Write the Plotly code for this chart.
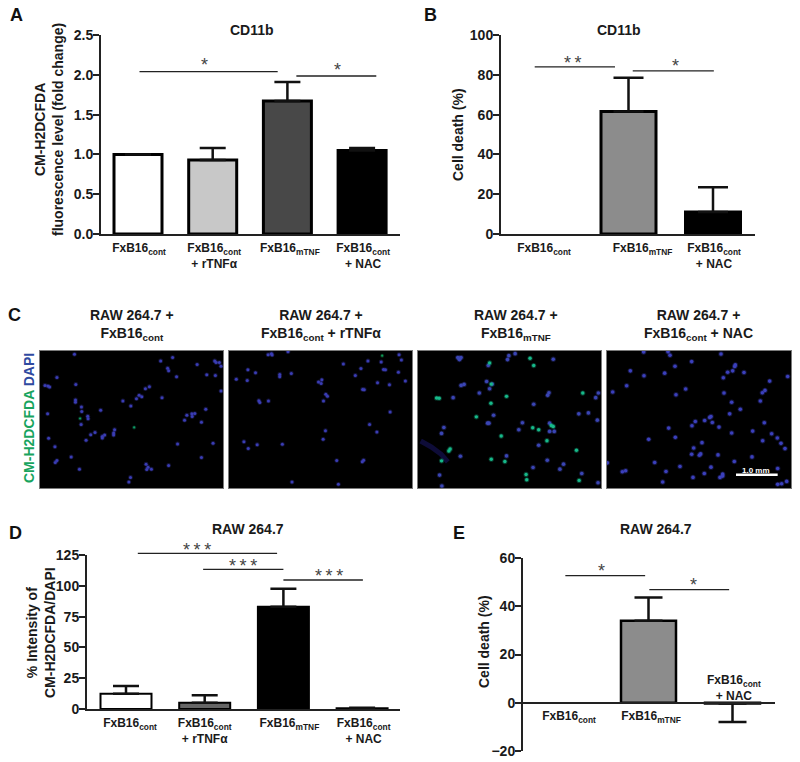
import plotly.graph_objects as go

W, H = 800, 762
FONT = "Liberation Sans"
INK = "#1a1a1a"

# ---------- data ----------
cont = "FxB16<sub>cont</sub>"
mtnf = "FxB16<sub>mTNF</sub>"
rtnf = "FxB16<sub>cont</sub><br>+ rTNFα"
nac = "FxB16<sub>cont</sub><br>+ NAC"

a_labels = [cont, rtnf, mtnf, nac]
a_values = [1.0, 0.93, 1.67, 1.05]
a_errors = [0, 0.15, 0.24, 0.03]
a_errors_down = [0, 0, 0, 0]
a_colors = ["#ffffff", "#c8c8c8", "#484848", "#000000"]

b_labels = [cont, mtnf, nac]
b_values = [0, 61.5, 11]
b_errors = [0, 17, 12.5]
b_errors_down = [0, 0, 0]
b_colors = ["#ffffff", "#8c8c8c", "#000000"]

d_labels = [cont, rtnf, mtnf, nac]
d_values = [12.3, 5, 83, 0.7]
d_errors = [6.3, 6.2, 14.7, 0.4]
d_errors_down = [0, 0, 0, 0]
d_colors = ["#ffffff", "#666666", "#000000", "#000000"]

e_labels = [cont, mtnf]
e_values = [0, 34, -0.3]
e_errors_up = [0, 9.6, 0]
e_errors_down = [0, 0, 7.7]
e_colors = ["#ffffff", "#8c8c8c", "#000000"]

# cell positions in image units (552 x 414 per micrograph)
c1_blue_x = [104,364,400,474,527,531,541,546,385,388,412,503,529,51,15,24,29,108,330,318,546,299,307,291,250,368,107,107,125,274,183,126,23,144,145,443,458,467,459,500,436,487,124,225,222,222,166,153,195,188,188,139,26,45,415,522,94,51,46,487,320,388,326,322,336,119,273,268]
c1_blue_y = [10,30,20,41,30,35,35,46,52,60,78,72,74,80,104,106,109,101,108,114,121,134,138,144,151,141,148,155,169,166,179,183,190,197,205,194,190,189,198,176,209,215,222,238,248,254,246,253,254,258,263,270,264,289,281,279,320,331,337,322,342,346,351,358,357,357,382,396]
c1_green_x = [121,284]
c1_green_y = [204,231]

c2_blue_x = [118,128,130,178,345,419,459,513,520,398,57,80,153,153,188,381,466,472,511,22,55,270,280,278,448,484,532,403,408,292,297,90,93,119,285,486,424,291,446,284,45,85,58,161,325,406,402,190,330]
c2_blue_y = [11,8,12,2,39,30,33,11,27,53,57,66,71,78,68,74,56,57,64,85,89,94,87,98,96,102,91,116,117,131,137,150,156,151,151,184,222,241,245,267,274,283,295,282,331,330,335,396,403]
c2_green_x = [462]
c2_green_y = [14]

c3_blue_x = [125,120,130,125,274,270,293,212,408,207,130,139,224,216,185,395,391,106,536,544,349,228,485,514,214,210,541,315,78,304,397,397,411,71,364,128,267,390,439,347,428,494,65,72,543]
c3_blue_y = [22,20,20,26,14,26,8,44,25,92,104,101,100,114,127,126,134,141,141,127,161,194,190,187,218,218,209,217,231,238,218,243,243,249,285,318,317,330,342,352,357,370,375,408,398]
c3_green_x = [216,338,349,56,64,221,267,220,497,176,402,408,346,364,251,389,97,93,221,262,326,328,486,71,478]
c3_green_y = [36,22,44,142,143,100,137,158,127,199,225,228,232,238,257,271,296,302,327,334,373,389,391,332,300]
c3_streak_x = [8,40,70,90]
c3_streak_y = [272,290,312,335]

c4_blue_x = [110,183,189,342,254,204,70,111,173,385,383,362,377,411,349,542,488,59,17,207,236,351,466,474,460,374,400,368,308,312,265,293,316,255,336,185,472,437,374,494,205,125,511,467,285,522,534,260,254,277,281,333,435,382,143,1,219,312,46,56,177,292,512,258,339,347,347,167,512,524,539]
c4_blue_y = [3,2,13,9,32,46,60,75,67,42,47,64,60,65,81,77,91,105,124,132,115,127,126,119,151,155,176,190,201,198,213,210,216,226,230,233,217,242,248,250,261,267,263,271,277,279,295,293,312,315,311,314,320,334,337,338,349,351,365,362,364,370,355,382,382,378,372,396,403,401,394]

scale_bar_x = [387, 512]
scale_bar_y = [374, 374]


# ---------- helpers ----------
def dom_x(left, right):
    return [left / W, right / W]


def dom_y(top, bottom):
    return [1 - bottom / H, 1 - top / H]


def label(px, py, text, size=12, color=INK, angle=0, bold=True):
    return dict(
        x=px / W, y=1 - py / H, xref="paper", yref="paper", text=text, showarrow=False,
        xanchor="center", yanchor="middle", align="center", textangle=angle,
        font=dict(family=FONT, size=size, color=color, weight=700 if bold else 400),
    )


fig = go.Figure()
annotations = []


def bar_panel(idx, labels, label_offsets, values, err_up, err_down, colors, frame, y_range, y_ticks,
              tick_format, centre0, step, bar_px, line_w, cap_half, brackets, zero_py=None):
    suffix = "" if idx == 1 else str(idx)
    left, right, top, bottom = frame
    n = len(values)
    x = list(range(n))
    x_range = [(left - centre0) / step, (right - centre0) / step]
    y_dom = dom_y(top, bottom)
    # a zero-height bar draws nothing in the reference, and would leave an error cap here
    fig.add_trace(go.Bar(
        x=x, y=[None if v == 0 else v for v in values], width=bar_px / step,
        xaxis="x" + suffix, yaxis="y" + suffix,
        marker=dict(color=colors, line=dict(color="#000000", width=line_w)),
        error_y=dict(type="data", symmetric=False, array=err_up, arrayminus=err_down,
                     color="#111111", thickness=2.5, width=cap_half),
        showlegend=False, hoverinfo="skip",
    ))
    for (x0, x1, yv) in brackets:
        yp = y_dom[0] + (yv - y_range[0]) / (y_range[1] - y_range[0]) * (y_dom[1] - y_dom[0])
        fig.add_shape(type="line", xref="x" + suffix, yref="paper", x0=x0, x1=x1, y0=yp, y1=yp,
                      line=dict(color="#222222", width=1.3))
    xa = dict(
        domain=dom_x(left, right), range=x_range, showgrid=False, zeroline=False, showline=True,
        linecolor="#222222", linewidth=2, ticks="", ticklabelstandoff=2, automargin=False,
        tickmode="array", tickvals=[i + o / step for i, o in zip(range(len(labels)), label_offsets)],
        ticktext=labels, tickangle=0, tickfont=dict(family=FONT, size=12, color=INK, weight=700),
    )
    if zero_py is None:
        xa["anchor"] = "y" + suffix
    else:
        xa["anchor"] = "free"
        xa["position"] = 1 - zero_py / H
    ya = dict(
        domain=y_dom, range=y_range, anchor="x" + suffix, showgrid=False, zeroline=False, automargin=False,
        showline=True, linecolor="#222222", linewidth=2, ticks="outside", ticklen=6, tickwidth=2,
        tickcolor="#222222", tickmode="array", tickvals=y_ticks, tickformat=tick_format, ticklabelstandoff=-3,
        tickfont=dict(family=FONT, size=14, color=INK, weight=700),
    )
    fig.update_layout({"xaxis" + suffix: xa, "yaxis" + suffix: ya})


bar_panel(1, a_labels, [1, 1.5, 2.5, 1], a_values, a_errors, a_errors_down, a_colors, (101, 400, 35, 234),
          [0, 2.5], [0, 0.5, 1, 1.5, 2, 2.5], ".1f", 138, 74.7, 48, 3, 13,
          [(0.02, 1.87, 2.04), (2.12, 3.19, 1.985)])
bar_panel(2, b_labels, [0, 14, 1], b_values, b_errors, b_errors_down, b_colors, (501, 755, 35, 234),
          [0, 100], [0, 20, 40, 60, 80, 100], "d", 544, 84.5, 55, 3, 15,
          [(-0.11, 0.84, 84), (1.05, 2.01, 82)])
bar_panel(3, d_labels, [4, 0, 6, 1.5], d_values, d_errors, d_errors_down, d_colors, (87, 400, 555, 709),
          [0, 125], [0, 25, 50, 75, 100, 125], "d", 126, 78.7, 51, 2, 13,
          [(0.15, 1.92, 126.4), (0.98, 2.0, 113.4), (2.0, 3.01, 104.7)])
bar_panel(4, e_labels, [4.5, 2.5], e_values, e_errors_up, e_errors_down, e_colors, (523, 775, 558, 751),
          [-20, 60], [-20, 0, 20, 40, 60], "d", 564.5, 84, 55, 2.5, 14,
          [(0.01, 0.96, 52.7), (1.01, 1.96, 46.9)], zero_py=703)


def image_panel(idx, left, right, layers):
    suffix = str(idx)
    for xs, ys, color, core in layers:
        fig.add_trace(go.Scatter(x=xs, y=ys, mode="markers", xaxis="x" + suffix, yaxis="y" + suffix,
                                 marker=dict(color=color, size=core + 1.8, opacity=0.3, line=dict(width=0)),
                                 showlegend=False, hoverinfo="skip"))
        fig.add_trace(go.Scatter(x=xs, y=ys, mode="markers", xaxis="x" + suffix, yaxis="y" + suffix,
                                 marker=dict(color=color, size=core, line=dict(width=0)),
                                 showlegend=False, hoverinfo="skip"))
    common = dict(showgrid=False, zeroline=False, showticklabels=False, ticks="", showline=True,
                  mirror=True, linecolor="#7a7a7a", linewidth=1, automargin=False)
    fig.update_layout({
        "xaxis" + suffix: dict(domain=dom_x(left, right), range=[0, 552], anchor="y" + suffix, **common),
        "yaxis" + suffix: dict(domain=dom_y(351, 488), range=[414, 0], anchor="x" + suffix, **common),
    })


BLUE = "#3a3db4"
image_panel(5, 40, 223, [(c1_blue_x, c1_blue_y, BLUE, 3), (c1_green_x, c1_green_y, "#0f9a66", 2.2)])
image_panel(6, 229, 412, [(c2_blue_x, c2_blue_y, BLUE, 3), (c2_green_x, c2_green_y, "#0f9a55", 2.2)])
fig.add_trace(go.Scatter(x=c3_streak_x, y=c3_streak_y, mode="lines", line=dict(color="#0e0c38", width=5),
                         xaxis="x7", yaxis="y7", showlegend=False, hoverinfo="skip"))
image_panel(7, 418, 601, [(c3_blue_x, c3_blue_y, "#3a45b4", 3.6), (c3_green_x, c3_green_y, "#17b98a", 3.4)])
image_panel(8, 607, 791, [(c4_blue_x, c4_blue_y, "#3b40bc", 3.6)])
fig.add_trace(go.Scatter(x=scale_bar_x, y=scale_bar_y, mode="lines", line=dict(color="#ffffff", width=2.5),
                         xaxis="x8", yaxis="y8", showlegend=False, hoverinfo="skip"))

# black backgrounds for the micrographs
for i in range(5, 9):
    fig.add_shape(type="rect", xref=f"x{i} domain", yref=f"y{i} domain", x0=0, x1=1, y0=0, y1=1,
                  fillcolor="#000000", line=dict(width=0), layer="below")

# panel letters
for px, py, t in [(16, 15, "A"), (430, 15, "B"), (14, 315, "C"), (15, 533, "D"), (459, 533, "E")]:
    annotations.append(label(px, py, t, size=18, color="#111111"))

# titles
annotations += [
    label(252, 30, "CD11b", size=14),
    label(619, 30, "CD11b", size=14),
    label(248, 529, "RAW 264.7", size=14),
    label(656, 529, "RAW 264.7", size=14),
    label(132, 325, "RAW 264.7 +<br>" + cont, size=14),
    label(321, 325, "RAW 264.7 +<br>" + cont + " + rTNFα", size=14),
    label(516, 325, "RAW 264.7 +<br>" + mtnf, size=14),
    label(698, 325, "RAW 264.7 +<br>" + cont + " + NAC", size=14),
]

# y axis titles
annotations += [
    label(49, 130, "CM-H2DCFDA<br>fluorescence level (fold change)", size=14, angle=-90),
    label(458, 135, "Cell death (%)", size=14, angle=-90),
    label(41, 633, "% Intensity of<br>CM-H2DCFDA/DAPI", size=14, angle=-90),
    label(484, 642, "Cell death (%)", size=14, angle=-90),
    label(29, 418, '<span style="color:#18a45e">CM-H2DCFDA</span> <span style="color:#2f4aa0">DAPI</span>',
          size=14, angle=-90),
]

# significance stars
for px, py, t in [(204, 65, "*"), (337, 70, "*"), (573, 63, "**"), (675, 66, "*"),
                  (197, 550, "***"), (243, 566, "***"), (329, 576, "***"),
                  (601, 571, "*"), (693, 585, "*")]:
    annotations.append(label(px, py, t.replace("*", "*\u2009")[:-1], size=18, color="#444444", bold=False))

# extra labels
annotations += [
    label(734, 688, nac, size=12),
    label(756, 470, "1.0 mm", size=8, color="#ffffff"),
]

fig.update_layout(
    width=W, height=H, margin=dict(l=0, r=0, t=0, b=0, pad=0), autosize=False,
    paper_bgcolor="#ffffff", plot_bgcolor="rgba(0,0,0,0)", showlegend=False,
    barmode="overlay", annotations=annotations, font=dict(family=FONT),
)
fig.write_html("out.html", post_script="document.body.style.margin='0';",
               config={"responsive": False, "displayModeBar": False})
